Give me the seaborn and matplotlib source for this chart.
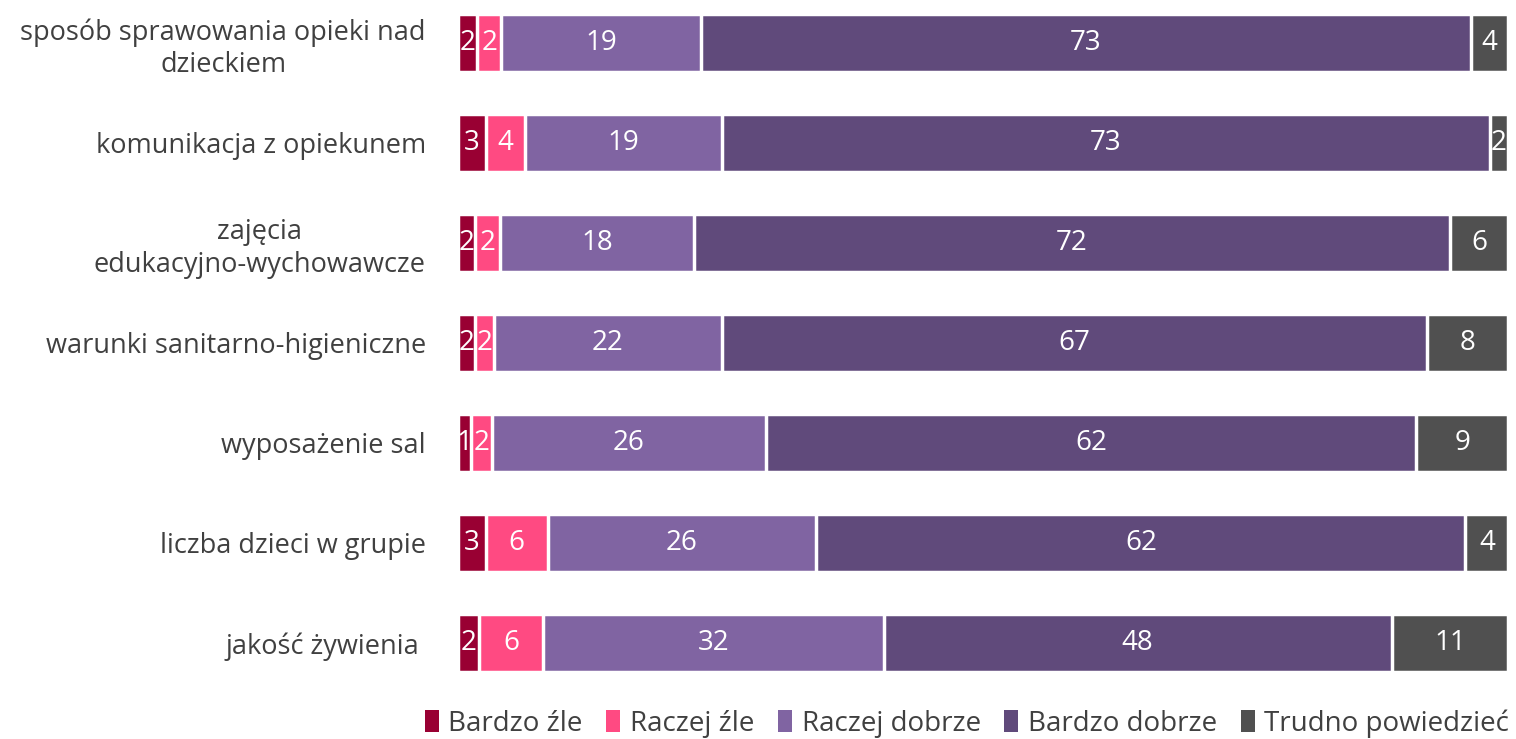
import numpy as np
import pandas as pd
import matplotlib
matplotlib.use("Agg")
import matplotlib.pyplot as plt
from matplotlib.patches import Patch
import seaborn as sns

categories = [
    "sposób sprawowania opieki nad\ndzieckiem",
    "komunikacja z opiekunem",
    "zajęcia\nedukacyjno-wychowawcze",
    "warunki sanitarno-higieniczne",
    "wyposażenie sal",
    "liczba dzieci w grupie",
    "jakość żywienia ",
]
series = ["Bardzo źle", "Raczej źle", "Raczej dobrze", "Bardzo dobrze", "Trudno powiedzieć"]
colors = ["#990033", "#FF4A82", "#8064A2", "#604A7B", "#505050"]

bardzo_zle = [1.8, 2.6, 1.6, 1.6, 1.2, 2.6, 2.0]
raczej_zle = [2.3, 3.7, 2.4, 1.8, 2.0, 5.9, 6.1]
raczej_dobrze = [19.0, 18.8, 18.4, 21.7, 26.1, 25.6, 32.4]
bardzo_dobrze = [73.3, 73.1, 72.0, 67.1, 61.9, 61.8, 48.4]
trudno = [3.6, 1.8, 5.6, 7.8, 8.8, 4.1, 11.1]

values = [bardzo_zle, raczej_zle, raczej_dobrze, bardzo_dobrze, trudno]

sns.set_style("white")
plt.rcParams["font.family"] = ["Open Sans", "DejaVu Sans"]

fig = plt.figure(figsize=(15.16, 7.39), dpi=100)
ax = fig.add_axes([0.302, 1 - 693 / 739, 0.693, 693 / 739])

df = pd.DataFrame(np.array(values).T, columns=series)
df["kategoria"] = categories
cum = df[series].cumsum(axis=1)

# stacked bars: draw cumulative totals from the longest to the shortest
for s, c in reversed(list(zip(series, colors))):
    sns.barplot(x=cum[s], y=df["kategoria"], color=c, orient="h", width=0.58,
                edgecolor="white", linewidth=2.5, saturation=1, ax=ax)

# segment labels
for s in series:
    for i, (left_end, v) in enumerate(zip(cum[s], df[s])):
        ax.text(left_end - v / 2, i, f"{v:.0f}", ha="center", va="center",
                color="white", fontsize=20)

ax.set_xlim(-0.05, 100)
ax.set_ylim(6.5, -0.43)
ax.set_xlabel("")
ax.set_ylabel("")
ax.set_xticks([])
ax.tick_params(axis="y", length=0, pad=23, labelsize=19.5, labelcolor="#404040")
for lbl in ax.get_yticklabels():
    lbl.set_multialignment("center")
sns.despine(ax=ax, left=True, bottom=True)

handles = [Patch(facecolor=c, edgecolor="none") for c in colors]
fig.legend(handles, series, loc="lower right", bbox_to_anchor=(1.012, -0.032), ncol=5,
           frameon=False, fontsize=20, handlelength=0.5, handleheight=0.8,
           handletextpad=0.35, columnspacing=0.85, labelcolor="#404040")

fig.savefig("out.png", dpi=100)
